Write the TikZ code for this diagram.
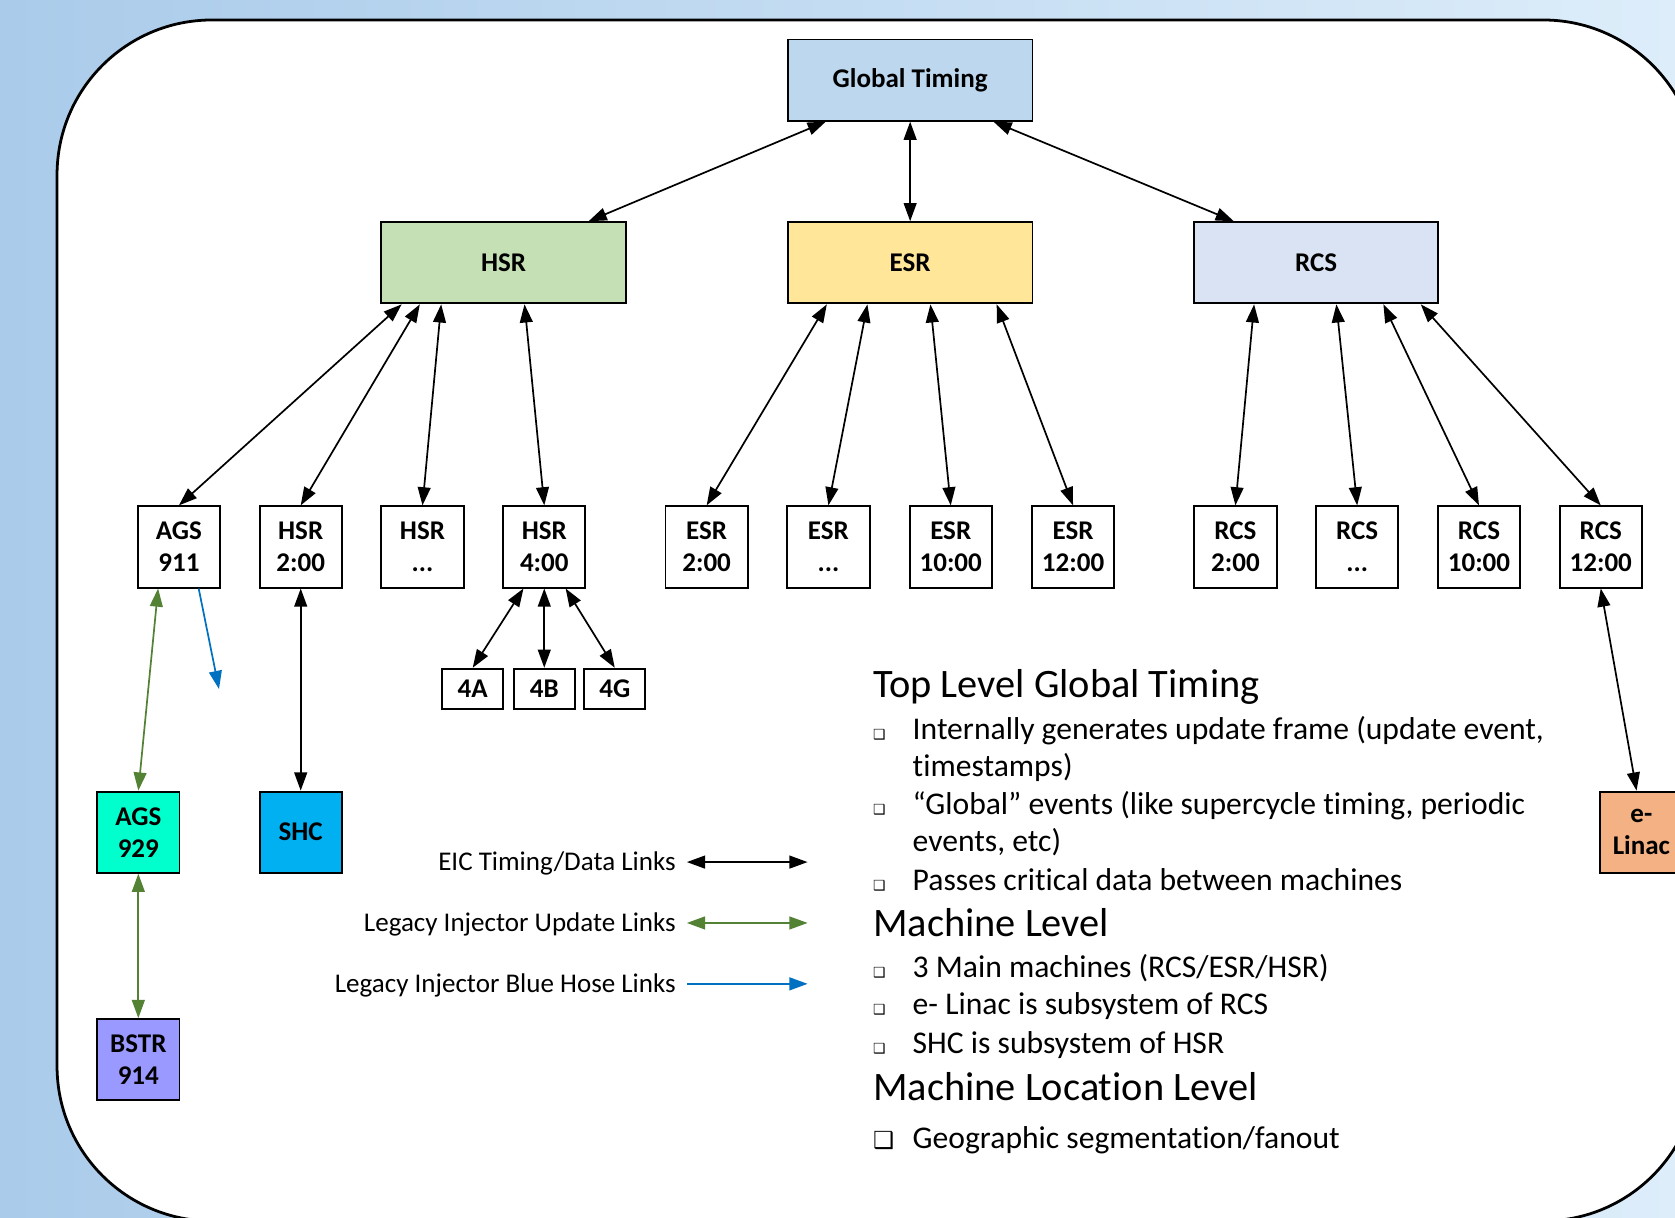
\documentclass[tikz,border=0pt]{standalone}
\usepackage{fontspec}
\setmainfont[Ligatures={TeX,NoCommon}]{Carlito}
\newfontfamily\dejavu{DejaVu Sans}
\usetikzlibrary{arrows.meta,calc}
\definecolor{bgl}{HTML}{AACBEA}
\definecolor{bgr}{HTML}{DDEDFA}
\definecolor{cglobal}{HTML}{BDD7EE}
\definecolor{chsr}{HTML}{C5E0B4}
\definecolor{cesr}{HTML}{FFE699}
\definecolor{crcs}{HTML}{DAE3F3}
\definecolor{cags}{HTML}{00FFCC}
\definecolor{cshc}{HTML}{00B0F0}
\definecolor{cbstr}{HTML}{9999FF}
\definecolor{clinac}{HTML}{F4B183}
\definecolor{lgreen}{HTML}{548235}
\definecolor{lblue}{HTML}{0070C0}
\begin{document}
\begin{tikzpicture}[x=0.5pt,y=-0.5pt,
  box/.style={draw=black,line width=0.9pt,inner sep=0pt,align=center,
    font=\bfseries\fontsize{12.65}{15}\selectfont},
  big/.style={box,minimum width=114.5pt,minimum height=38pt},
  small/.style={box,minimum width=38.5pt,minimum height=38pt},
  tiny/.style={box,minimum width=28.5pt,minimum height=19pt},
  link/.style={line width=0.8pt,{Triangle[length=8.5pt,width=6pt]}-{Triangle[length=8.5pt,width=6pt]}},
  glink/.style={link,color=lgreen},
  blink/.style={line width=0.8pt,color=lblue,-{Triangle[length=8.5pt,width=6pt]}},
  legtext/.style={anchor=base east,inner sep=0pt,font=\fontsize{12.65}{15}\selectfont},
  head/.style={anchor=base west,inner sep=0pt,font=\fontsize{18.9}{22}\selectfont},
  btext/.style={anchor=base west,inner sep=0pt,font=\fontsize{14.8}{17}\selectfont},
  bul/.style={anchor=base west,inner sep=0pt,font=\dejavu\fontsize{6.5}{7}\selectfont},
  bigbul/.style={anchor=base west,inner sep=0pt,font=\dejavu\fontsize{11}{12}\selectfont}
]
\useasboundingbox (0,0) rectangle (1568,1140);
\shade[left color=bgl,right color=bgr] (0,0) rectangle (1568,1140);
\draw[fill=white,line width=1.3pt,rounded corners=72.5pt] (53.4,18.7) rectangle (1589.6,1143);

% main machines
\node[big,fill=cglobal] (gt) at (852,75) {Global Timing};
\node[big,fill=chsr] (hsr) at (471.5,246) {HSR};
\node[big,fill=cesr] (esr) at (852,246) {ESR};
\node[big,fill=crcs] (rcs) at (1232,246) {RCS};

% locations
\node[small] (ags911) at (167.5,512) {AGS\\911};
\node[small] (h2) at (281.5,512) {HSR\\2:00};
\node[small] (hd) at (395.5,512) {HSR\\...};
\node[small] (h4) at (509.5,512) {HSR\\4:00};
\node[small] (e2) at (661.5,512) {ESR\\2:00};
\node[small] (ed) at (775.5,512) {ESR\\...};
\node[small] (e10) at (890,512) {ESR\\10:00};
\node[small] (e12) at (1004.5,512) {ESR\\12:00};
\node[small] (r2) at (1156.5,512) {RCS\\2:00};
\node[small] (rd) at (1270.5,512) {RCS\\...};
\node[small] (r10) at (1384.5,512) {RCS\\10:00};
\node[small] (r12) at (1498.5,512) {RCS\\12:00};

\node[tiny] (n4a) at (442.5,645) {4A};
\node[tiny] (n4b) at (509.5,645) {4B};
\node[tiny] (n4g) at (575.5,645) {4G};

\node[small,fill=cags] (ags929) at (129.5,779) {AGS\\929};
\node[small,fill=cshc] (shc) at (281.5,779) {SHC};
\node[small,fill=cbstr] (bstr) at (129.5,992) {BSTR\\914};
\node[small,fill=clinac] (elinac) at (1536.5,779) {e-\\Linac};

% links
\draw[link] ($(gt.south)+(-79,0)$) -- ($(hsr.north)+(79.5,0)$);
\draw[link] (gt.south) -- (esr.north);
\draw[link] ($(gt.south)+(78,0)$) -- ($(rcs.north)+(-77,0)$);

\draw[link] ($(hsr.south)+(-95.5,0)$) -- (ags911.north);
\draw[link] ($(hsr.south)+(-78.5,0)$) -- (h2.north);
\draw[link] ($(hsr.south)+(-58.5,0)$) -- (hd.north);
\draw[link] ($(hsr.south)+(19.5,0)$) -- (h4.north);

\draw[link] ($(esr.south)+(-78,0)$) -- (e2.north);
\draw[link] ($(esr.south)+(-40,0)$) -- (ed.north);
\draw[link] ($(esr.south)+(19,0)$) -- (e10.north);
\draw[link] ($(esr.south)+(81,0)$) -- (e12.north);

\draw[link] ($(rcs.south)+(-58,0)$) -- (r2.north);
\draw[link] ($(rcs.south)+(19,0)$) -- (rd.north);
\draw[link] ($(rcs.south)+(63,0)$) -- (r10.north);
\draw[link] ($(rcs.south)+(98,0)$) -- (r12.north);

\draw[link] ($(h4.south)+(-19.5,0)$) -- (n4a.north);
\draw[link] (h4.south) -- (n4b.north);
\draw[link] ($(h4.south)+(20,0)$) -- (n4g.north);

\draw[glink] ($(ags911.south)+(-19.5,0)$) -- (ags929.north);
\coordinate (bhend) at (205,645);
\draw[blink] ($(ags911.south)+(18.5,0)$) -- (bhend);
\draw[link] (h2.south) -- (shc.north);
\draw[glink] (ags929.south) -- (bstr.north);
\draw[link] (r12.south) -- ($(elinac.north)+(-4.5,0)$);

% legend
\node[legtext] (lg1) at (633,815) {EIC Timing/Data Links};
\node[legtext] (lg2) at (633,872) {Legacy Injector Update Links};
\node[legtext] (lg3) at (633,929) {Legacy Injector Blue Hose Links};
\coordinate (lg1a) at (643,807); \coordinate (lg1b) at (756,807);
\coordinate (lg2a) at (643,864); \coordinate (lg2b) at (756,864);
\coordinate (lg3a) at (643,921); \coordinate (lg3b) at (756,921);
\draw[link] (lg1a) -- (lg1b);
\draw[glink] (lg2a) -- (lg2b);
\draw[blink] (lg3a) -- (lg3b);

% text block
\node[head] (hd1) at (817,653) {Top Level Global Timing};
\node[bul] (b1) at (817,692) {❑};
\node[btext] (t1) at (854,692) {Internally generates update frame (update event,};
\node[btext] (t1b) at (854,727) {timestamps)};
\node[bul] (b2) at (817,762) {❑};
\node[btext] (t2) at (854,762) {“Global” events (like supercycle timing, periodic};
\node[btext] (t2b) at (854,797) {events, etc)};
\node[bul] (b3) at (817,834) {❑};
\node[btext] (t3) at (854,834) {Passes critical data between machines};
\node[head] (hd2) at (817,877) {Machine Level};
\node[bul] (b4) at (817,915) {❑};
\node[btext] (t4) at (854,915) {3 Main machines (RCS/ESR/HSR)};
\node[bul] (b5) at (817,950) {❑};
\node[btext] (t5) at (854,950) {e- Linac is subsystem of RCS};
\node[bul] (b6) at (817,986) {❑};
\node[btext] (t6) at (854,986) {SHC is subsystem of HSR};
\node[head] (hd3) at (817,1030) {Machine Location Level};
\node[bigbul] (b7) at (817,1075) {❑};
\node[btext] (t7) at (854,1075) {Geographic segmentation/fanout};
\end{tikzpicture}
\end{document}
